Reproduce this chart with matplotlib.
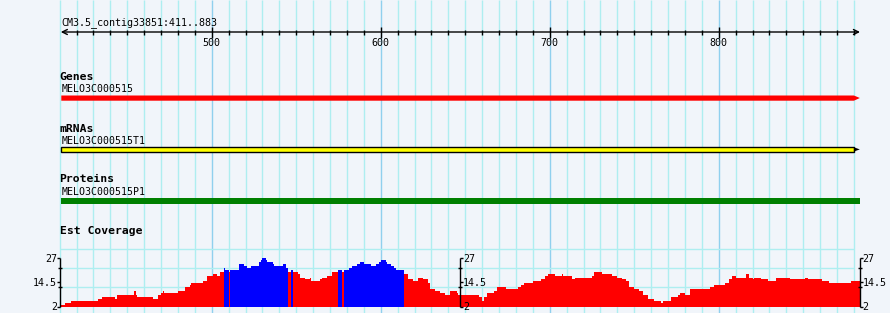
import matplotlib.pyplot as plt
import numpy as np

# view / ruler
ref_name = 'CM3.5_contig33851'
view_start, view_end = 411, 883
ruler_labels = [500, 600, 700, 800]

# features
gene_name = 'MELO3C000515'
mrna_name = 'MELO3C000515T1'
protein_name = 'MELO3C000515P1'
feat_start, feat_end = 411, 883

# EST coverage, step data (start bp, depth)
cov_start = [411, 413, 417, 433, 435, 443, 444, 454, 455, 456, 465, 468, 470, 471, 472,
             480, 484, 487, 488, 495, 497, 501, 503, 505, 507, 508, 510, 511, 516, 519,
             521, 523, 528, 529, 530, 532, 533, 536, 537, 542, 544, 545, 547, 548, 551,
             552, 555, 558, 559, 564, 565, 568, 571, 575, 577, 578, 581, 583, 586, 588,
             590, 594, 597, 599, 600, 603, 604, 606, 608, 609, 614, 616, 619, 622, 625,
             628, 629, 632, 635, 638, 641, 645, 646, 658, 660, 661, 663, 667, 669, 674,
             681, 683, 685, 690, 695, 697, 699, 703, 707, 708, 713, 715, 725, 726, 731,
             737, 740, 743, 745, 747, 750, 753, 755, 758, 762, 766, 767, 772, 776, 777,
             780, 783, 795, 797, 804, 806, 808, 810, 816, 818, 820, 821, 825, 829, 834,
             842, 851, 853, 861, 865, 878]
cov_value = [3, 4, 5, 6, 7, 6, 8, 10, 8, 7, 6, 8, 9, 10, 9,
             10, 12, 13, 14, 15, 18, 19, 18, 20, 22, 21, 20, 21, 24, 23,
             22, 23, 25, 26, 27, 26, 25, 24, 23, 24, 22, 20, 21, 20, 19,
             17, 16, 17, 15, 16, 17, 18, 20, 21, 20, 21, 22, 23, 24, 25,
             24, 23, 24, 25, 26, 25, 24, 23, 22, 21, 19, 16, 15, 17, 16,
             14, 11, 10, 9, 8, 10, 9, 8, 7, 5, 7, 9, 10, 12, 11,
             12, 13, 14, 15, 16, 18, 19, 18, 19, 18, 16, 17, 18, 20, 19,
             18, 17, 16, 15, 12, 11, 10, 8, 6, 5, 4, 5, 7, 8, 9,
             8, 11, 12, 13, 14, 16, 18, 17, 19, 17, 16, 17, 16, 15, 17,
             16, 17, 16, 15, 14, 15]
cov_min, cov_max = 2, 27
cov_mid = 14.5
high_cut = 21

W, H = 890, 313
px = 1.69  # pixels per bp
x0 = view_start - 61.3 / px
x1 = x0 + W / px

bg = '#f1f5fa'
grid_c = '#aeeef0'
grid_major = '#90d0ee'
mono = 'DejaVu Sans Mono'

fig = plt.figure(figsize=(W / 100, H / 100), dpi=100, facecolor=bg)
ax = fig.add_axes([0, 0, 1, 1], facecolor=bg)
ax.set_xlim(x0, x1)
ax.set_ylim(H, 0)
ax.axis('off')

# vertical grid
grid_pos = np.arange(410, 881, 10)
minor = [g for g in grid_pos if g % 100]
major = [g for g in grid_pos if g % 100 == 0]
ax.vlines(minor, 0, H, colors=grid_c, lw=1, zorder=0)
ax.vlines(major, 0, H, colors=grid_major, lw=1, zorder=0)
ax.hlines([249, 268, 287], 410, 880, colors=grid_c, lw=1, zorder=0)

# ruler
ax.text(view_start, 25.5, ref_name + ':%d..%d' % (view_start, view_end),
        family=mono, fontsize=7.2, va='baseline', ha='left')
ax.annotate('', xy=(view_start - 0.3, 32), xytext=(view_end + 0.6, 32),
            arrowprops=dict(arrowstyle='<->', color='black', lw=1,
                            shrinkA=0, shrinkB=0, mutation_scale=9))
ticks = [t for t in range(420, view_end, 10) if t % 100]
ax.vlines(ticks, 30, 34.5, colors='black', lw=1)
ax.vlines(ruler_labels, 27, 38, colors='black', lw=1)
for t in ruler_labels:
    ax.text(t, 45.7, str(t), family=mono, fontsize=7.2, ha='center', va='baseline')

# feature tracks
def track_label(y, s):
    ax.text(view_start - 1, y, s, family=mono, fontsize=8.2, fontweight='bold',
            va='baseline', ha='left')

def feat_label(y, s):
    ax.text(feat_start + 0.4, y, s, family=mono, fontsize=7.1, va='baseline', ha='left')

tip = 3.0
track_label(80, 'Genes')
feat_label(92.5, gene_name)
ax.fill([feat_start, feat_end - tip, feat_end + 0.5, feat_end - tip, feat_start],
        [95.5, 95.5, 98, 100.7, 100.7], color='#ff0000', lw=0)

track_label(132.5, 'mRNAs')
feat_label(144, mrna_name)
ax.fill([feat_start, feat_end - tip, feat_end - tip, feat_start],
        [147.3, 147.3, 151.5, 151.5], facecolor='#ffff00', edgecolor='black', lw=1)
ax.fill([feat_end - tip, feat_end + 0.5, feat_end - tip], [147.3, 149.4, 151.5],
        color='black', lw=0)

track_label(182.5, 'Proteins')
feat_label(195, protein_name)
ax.fill([feat_start, feat_end + 0.5, feat_end + 0.5, feat_start],
        [198.2, 198.2, 204, 204], color='#008000', lw=0)

track_label(233.5, 'Est Coverage')

# coverage plot
cov_top, cov_bot = 258.2, 306.5
cax = fig.add_axes([0, (H - cov_bot) / H, 1, (cov_bot - cov_top) / H])
cax.patch.set_alpha(0)
cax.set_xlim(x0, x1)
cax.set_ylim(cov_min, cov_max)
cax.axis('off')

starts = np.array(cov_start, dtype=float)
vals = np.array(cov_value, dtype=float)
widths = np.diff(np.append(starts, view_end + 1))
colors = np.where(vals >= high_cut, '#0000ff', '#ff0000')
cax.bar(starts, vals - cov_min, width=widths, bottom=cov_min, align='edge',
        color=colors, lw=0, clip_on=False)

mid_pos = (view_start + view_end) / 2
for xpos, side in [(view_start - 0.6, 'left'), (mid_pos, 'right'), (view_end + 0.4, 'right')]:
    cax.vlines(xpos, cov_min, cov_max, colors='black', lw=1, clip_on=False)
    d = 1.8 if side == 'right' else -1.8
    cax.hlines([cov_min, cov_max, cov_mid], xpos, xpos + d, colors='black', lw=1, clip_on=False)
    cax.hlines([12.2, 22.0], xpos - 1.2, xpos + 1.2, colors='black', lw=1, clip_on=False)
    for v in [cov_max, cov_mid, cov_min]:
        lab = ('%g' % v)
        if side == 'left':
            cax.text(xpos - 2.0, v, lab, family=mono, fontsize=7.2,
                     ha='right', va='center_baseline', clip_on=False)
        else:
            cax.text(xpos + 1.6, v, lab, family=mono, fontsize=7.2,
                     ha='left', va='center_baseline', clip_on=False)

fig.savefig('out.png', dpi=100, facecolor=bg)
